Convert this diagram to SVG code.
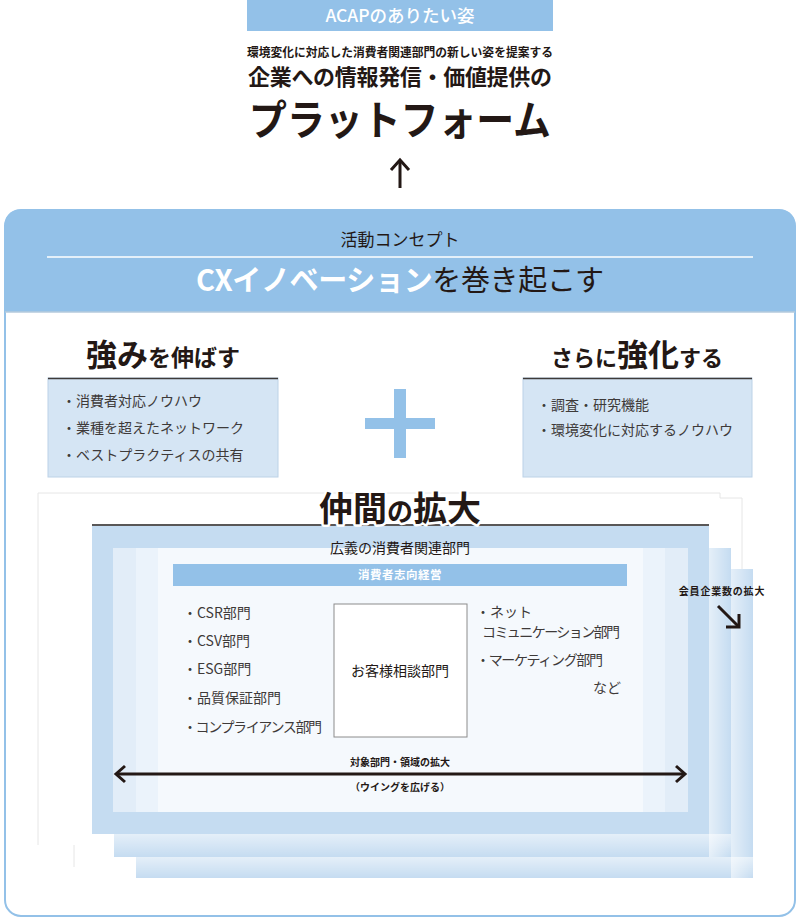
<svg xmlns="http://www.w3.org/2000/svg" width="800" height="921" viewBox="0 0 800 921">
<defs>
<style>
text{font-family:"Noto Sans CJK JP","Noto Sans",sans-serif;fill:#231815}
.b{font-weight:700}
.item{font-size:14px;fill:#3e3a39}
.w{fill:#fff}
.con{fill:none;stroke:#231815;stroke-width:3}
.page{fill:#c5dcf1}
.faint{fill:none;stroke:#e6e6e6;stroke-width:1}
</style>
<linearGradient id="gv" x1="0" y1="0" x2="0" y2="1"><stop offset="0" stop-color="#fff" stop-opacity="0.55"/><stop offset="1" stop-color="#fff" stop-opacity="0"/></linearGradient>
<linearGradient id="gh" x1="0" y1="0" x2="1" y2="0"><stop offset="0" stop-color="#fff" stop-opacity="0.55"/><stop offset="1" stop-color="#fff" stop-opacity="0"/></linearGradient>
</defs>
<rect width="800" height="921" fill="#fff"/>

<g id="vision">
<rect x="247" y="0" width="306" height="31" fill="#93c1e8"/>
<text x="400" y="22" text-anchor="middle" class="w" font-size="17.5" font-weight="500">ACAPのありたい姿</text>
<text x="400" y="57" text-anchor="middle" font-size="12" class="b" textLength="306" lengthAdjust="spacingAndGlyphs">環境変化に対応した消費者関連部門の新しい姿を提案する</text>
<text x="400" y="85" text-anchor="middle" font-size="22" class="b" textLength="304">企業への情報発信・価値提供の</text>
<text x="400" y="135" text-anchor="middle" font-size="41" class="b" textLength="302" lengthAdjust="spacingAndGlyphs">プラットフォーム</text>
</g>

<g id="concept">
<rect x="5" y="210" width="790" height="706" rx="16" fill="#fff" stroke="#93c1e8" stroke-width="2"/>
<path d="M5,312 V226 Q5,210 21,210 H779 Q795,210 795,226 V312 Z" fill="#93c1e8"/>
<line x1="5" y1="312" x2="795" y2="312" stroke="#b4cadd" stroke-width="1.5"/>
<line x1="47" y1="257" x2="753" y2="257" stroke="#fff" stroke-width="1.5"/>
<text x="400" y="246" text-anchor="middle" font-size="17">活動コンセプト</text>
<text x="400" y="291" text-anchor="middle" font-size="29" textLength="408"><tspan class="w b">CXイノベーション</tspan><tspan>を巻き起こす</tspan></text>
</g>

<g id="strength">
<text x="163" y="366" text-anchor="middle" class="b"><tspan font-size="31">強み</tspan><tspan font-size="23">を伸ばす</tspan></text>
<rect x="48" y="378" width="230" height="99" fill="#d5e5f4" stroke="#bcd2e7" stroke-width="1"/>
<line x1="48" y1="378.5" x2="278" y2="378.5" stroke="#3e3a39" stroke-width="1.5"/>
<text x="62" y="406" class="item">・消費者対応ノウハウ</text>
<text x="62" y="433" class="item">・業種を超えたネットワーク</text>
<text x="62" y="460" class="item">・ベストプラクティスの共有</text>
</g>

<g id="plus">
<rect x="394" y="389" width="12" height="69" fill="#93c1e8"/>
<rect x="365" y="418" width="70" height="11" fill="#93c1e8"/>
</g>

<g id="reinforce">
<text x="637" y="366" text-anchor="middle" class="b"><tspan font-size="22">さらに</tspan><tspan font-size="31">強化</tspan><tspan font-size="22">する</tspan></text>
<rect x="523" y="378" width="229" height="99" fill="#d5e5f4" stroke="#bcd2e7" stroke-width="1"/>
<line x1="523" y1="378.5" x2="752" y2="378.5" stroke="#3e3a39" stroke-width="1.5"/>
<text x="537" y="410" class="item">・調査・研究機能</text>
<text x="537" y="435" class="item">・環境変化に対応するノウハウ</text>
</g>

<g id="expansion">
<path class="faint" d="M38,845 V493 H720 V498 H742 V569"/>
<path class="faint" d="M74,845 V867"/>
<rect class="page" x="136" y="569" width="617" height="309"/>
<rect x="136" y="857" width="617" height="21" fill="url(#gv)"/>
<rect x="731" y="569" width="22" height="309" fill="url(#gh)"/>
<rect class="page" x="114" y="548" width="617" height="309"/>
<rect x="114" y="834" width="617" height="23" fill="url(#gv)"/>
<rect x="709" y="548" width="22" height="309" fill="url(#gh)"/>
<rect class="page" x="92" y="525" width="617" height="309"/>
<line x1="92" y1="525" x2="709" y2="525" stroke="#595757" stroke-width="2"/>
<rect x="113" y="548" width="575" height="264" fill="#e2edf8"/>
<rect x="136" y="548" width="529" height="264" fill="#ebf3fb"/>
<rect x="158" y="548" width="485" height="264" fill="#f5f9fd"/>
<text x="400" y="521" text-anchor="middle" class="b" stroke="#fff" stroke-width="5" stroke-linejoin="round" paint-order="stroke"><tspan font-size="34">仲間</tspan><tspan font-size="26">の</tspan><tspan font-size="34">拡大</tspan></text>
<text x="400" y="553" text-anchor="middle" font-size="14" fill="#3e3a39">広義の消費者関連部門</text>
<rect x="173" y="564" width="454" height="22" fill="#93c1e8"/>
<text x="400" y="579" text-anchor="middle" font-size="11.5" class="w b" letter-spacing="0.5">消費者志向経営</text>
<text x="722" y="595" text-anchor="middle" font-size="10" class="b" letter-spacing="0.8">会員企業数の拡大</text>
</g>

<g id="departments">
<text x="183" y="618" class="item">・CSR部門</text>
<text x="183" y="646" class="item">・CSV部門</text>
<text x="183" y="674" class="item">・ESG部門</text>
<text x="183" y="703" class="item">・品質保証部門</text>
<text x="183" y="732" class="item" textLength="139">・コンプライアンス部門</text>
<text x="476" y="617" class="item">・ネット</text>
<text x="482" y="637" class="item" textLength="138">コミュニケーション部門</text>
<text x="476" y="665" class="item" textLength="127">・マーケティング部門</text>
<text x="593" y="693" class="item">など</text>
</g>

<g id="consultation">
<rect x="334" y="604" width="133" height="133" fill="#fff" stroke="#8c8c8c" stroke-width="1"/>
<text x="400" y="676" text-anchor="middle" font-size="14" fill="#3e3a39">お客様相談部門</text>
</g>

<g id="connectors">
<line class="con" x1="400" y1="188" x2="400" y2="160" stroke-width="2.5"/>
<polyline class="con" points="391,170 400,160 409,170" stroke-width="2.5"/>
<line class="con" x1="117" y1="774" x2="684" y2="774"/>
<polyline class="con" points="125,766 116,774 125,782"/>
<polyline class="con" points="676,766 685,774 676,782"/>
<line class="con" x1="718" y1="606" x2="738" y2="626"/>
<polyline class="con" points="739,614 739,627 726,627"/>
</g>
<g id="wing-labels">
<text x="400" y="766" text-anchor="middle" font-size="10" class="b">対象部門・領域の拡大</text>
<text x="400" y="791" text-anchor="middle" font-size="10" class="b">（ウイングを広げる）</text>
</g>
</svg>
